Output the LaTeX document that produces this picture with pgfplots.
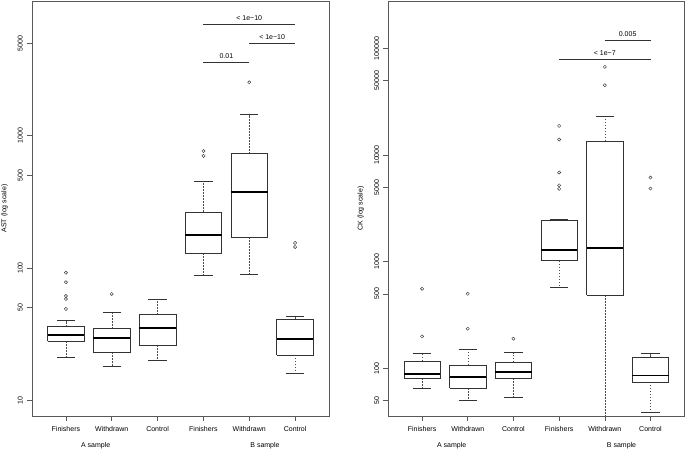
\documentclass[border=0pt]{standalone}
\usepackage{fontspec}
\setmainfont{Liberation Sans}
\usepackage{pgfplots}
\pgfplotsset{compat=1.18}

\newcommand{\sm}{\fontsize{7bp}{8bp}\selectfont}

\pgfplotsset{
  /pgf/number format/assume math mode=true,
  whisk/.style={black!70, line width=0.5bp, dash pattern=on 1.5bp off 1.5bp, no marks},
  capst/.style={black!80, line width=0.6bp, no marks},
  boxst/.style={black!80, line width=0.6bp, no marks},
  medst/.style={black, line width=1.7bp, no marks},
  outl/.style={only marks, mark=o, mark size=1.6bp, black!80, mark options={line width=0.45bp, solid}},
  sig/.style={black!80, line width=0.6bp, no marks},
}

% position, lower whisker, lower quartile, median, upper quartile, upper whisker
\newcommand{\rbox}[6]{%
  \pgfmathsetmacro\bxl{#1-0.4}\pgfmathsetmacro\bxr{#1+0.4}%
  \pgfmathsetmacro\cxl{#1-0.2}\pgfmathsetmacro\cxr{#1+0.2}%
  \addplot[whisk] coordinates {(#1,#3) (#1,#2)};
  \addplot[whisk] coordinates {(#1,#5) (#1,#6)};
  \addplot[capst] coordinates {(\cxl,#2) (\cxr,#2)};
  \addplot[capst] coordinates {(\cxl,#6) (\cxr,#6)};
  \addplot[boxst] coordinates {(\bxl,#3) (\bxr,#3) (\bxr,#5) (\bxl,#5) (\bxl,#3)};
  \addplot[medst] coordinates {(\bxl,#4) (\bxr,#4)};
}

\begin{document}
\begin{tikzpicture}

% ---- AST
\begin{axis}[
  scale only axis, height=415bp, width=297bp,
  anchor=south west, at={(32bp,34bp)},
  ymode=log, xmin=0.26, xmax=6.74,
  ymin=7.6, ymax=10430,
  xtick={1,2,3,4,5,6},
  xticklabels={Finishers,Withdrawn,Control,Finishers,Withdrawn,Control},
  ytick={10,50,100,500,1000,5000},
  yticklabels={10,50,100,500,1000,5000},
  tick align=outside, tick pos=left, major tick length=5bp,
  yminorticks=false,
  axis line style={black!65, line width=0.6bp},
  every tick/.style={black!65, line width=0.6bp},
  ticklabel style={font=\sm, inner sep=0pt},
  yticklabel style={xshift=-4bp, rotate=90, anchor=south},
  xticklabel style={yshift=-5bp, anchor=north},
  label style={font=\sm},
  ylabel={AST (log scale)},
  ylabel style={at={(axis description cs:-0.0926,0.5)}, anchor=center},
  extra description/.code={
    \node[font=\sm] at (0.2145,-0.0706) {A sample};
    \node[font=\sm] at (0.7845,-0.0706) {B sample};
  },
]
\rbox{1}{21.0}{27.9}{31.0}{36.0}{40.0}
\addplot[outl] coordinates {(1,92) (1,78) (1,61.4) (1,58.3) (1,49)};
\rbox{2}{17.9}{23.1}{29.4}{34.8}{45.9}
\addplot[outl] coordinates {(2,63.6)};
\rbox{3}{20.1}{26.0}{35.0}{44.4}{58}
\rbox{4}{87.5}{129}{178.5}{265}{452}
\addplot[outl] coordinates {(4,766) (4,703)};
\rbox{5}{89}{170.6}{375}{731}{1442}
\addplot[outl] coordinates {(5,2533)};
\rbox{6}{16.0}{22.0}{28.9}{40.7}{42.9}
\addplot[outl] coordinates {(6,154.6) (6,144)};

% significance bars
\addplot[sig] coordinates {(4,6950) (6,6950)};
\addplot[sig] coordinates {(5,4990) (6,4990)};
\addplot[sig] coordinates {(4,3587) (5,3587)};
\node[font=\sm, anchor=base, yshift=4bp] at (axis cs:5,6950) {< 1e−10};
\node[font=\sm, anchor=base, yshift=4bp] at (axis cs:5.5,4990) {< 1e−10};
\node[font=\sm, anchor=base, yshift=4bp] at (axis cs:4.5,3587) {0.01};
\end{axis}

% ---- CK
\begin{axis}[
  scale only axis, height=415bp, width=296bp,
  anchor=south west, at={(388.3bp,34bp)},
  ymode=log, xmin=0.26, xmax=6.74,
  ymin=35.8, ymax=279000,
  xtick={1,2,3,4,5,6},
  xticklabels={Finishers,Withdrawn,Control,Finishers,Withdrawn,Control},
  ytick={50,100,500,1000,5000,10000,50000,100000},
  yticklabels={50,100,500,1000,5000,10000,50000,100000},
  tick align=outside, tick pos=left, major tick length=5bp,
  yminorticks=false,
  axis line style={black!65, line width=0.6bp},
  every tick/.style={black!65, line width=0.6bp},
  ticklabel style={font=\sm, inner sep=0pt},
  yticklabel style={xshift=-4bp, rotate=90, anchor=south},
  xticklabel style={yshift=-5bp, anchor=north},
  label style={font=\sm},
  ylabel={CK (log scale)},
  ylabel style={at={(axis description cs:-0.0932,0.5)}, anchor=center},
  extra description/.code={
    \node[font=\sm] at (0.214,-0.0706) {A sample};
    \node[font=\sm] at (0.788,-0.0706) {B sample};
  },
]
\rbox{1}{65}{81.3}{88.6}{117}{139}
\addplot[outl] coordinates {(1,558) (1,199.6)};
\rbox{2}{49.8}{65.5}{83.6}{107.6}{152}
\addplot[outl] coordinates {(2,501) (2,235.6)};
\rbox{3}{54}{81.3}{93}{114.8}{141}
\addplot[outl] coordinates {(3,190)};
\rbox{4}{579}{1022}{1295}{2460}{2512}
\addplot[outl] coordinates {(4,18820) (4,14000) (4,6870) (4,5210) (4,4830)};
\rbox{5}{1}{483}{1344}{13530}{23200}
\addplot[outl] coordinates {(5,67300) (5,45300)};
\rbox{6}{39}{74.6}{85.9}{128}{138}
\addplot[outl] coordinates {(6,6166) (6,4863)};

\addplot[sig] coordinates {(5,118600) (6,118600)};
\addplot[sig] coordinates {(4,78700) (6,78700)};
\node[font=\sm, anchor=base, yshift=4bp] at (axis cs:5.5,118600) {0.005};
\node[font=\sm, anchor=base, yshift=4bp] at (axis cs:5,78700) {< 1e−7};
\end{axis}

\pgfresetboundingbox
\path[use as bounding box] (0,0) rectangle (685bp,450bp);
\end{tikzpicture}
\end{document}
